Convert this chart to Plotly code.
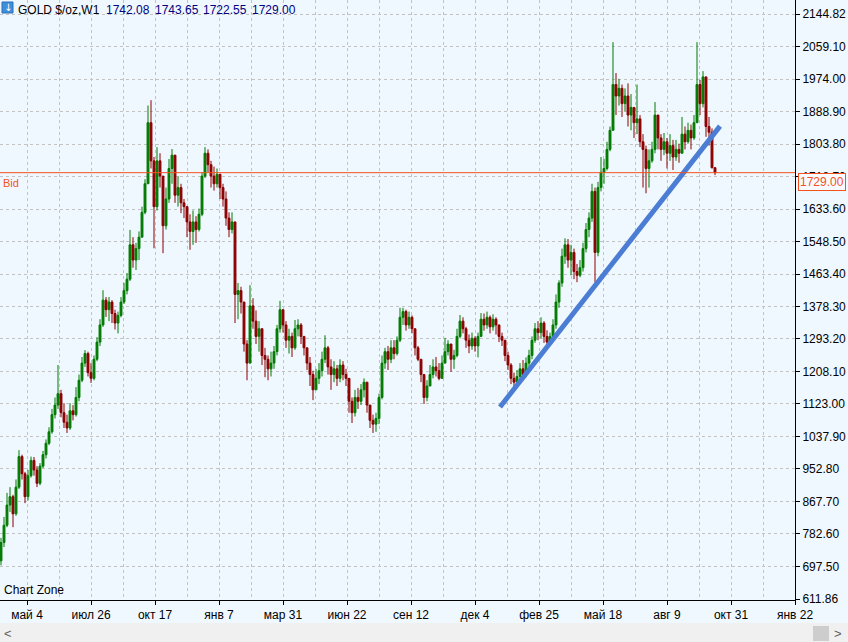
import plotly.graph_objects as go

# ---------------- data ----------------
# one candle every 3 bars along the time axis (bar index)
open_first = 712
close = [
    760, 805, 858, 880, 835, 905, 985, 940, 880, 935, 975, 950, 915, 960, 990, 1020,
    1050, 1095, 1120, 1150, 1100, 1075, 1060, 1105, 1095, 1140, 1185, 1230, 1255, 1205,
    1190, 1240, 1285, 1330, 1395, 1370, 1390, 1360, 1335, 1355, 1390, 1420, 1450, 1540,
    1500, 1530, 1560,
    1625, 1700, 1860, 1760, 1640, 1760, 1720, 1590, 1660, 1740, 1775, 1670, 1690, 1650,
    1640, 1600, 1575, 1600, 1580, 1620, 1720, 1780, 1750, 1720, 1700, 1725, 1690, 1660,
    1610, 1580, 1600, 1410, 1420, 1390, 1280, 1230, 1380, 1340, 1300, 1320, 1250, 1240,
    1215,
    1230, 1260, 1320, 1370, 1330, 1290, 1300, 1270, 1320, 1330, 1300, 1270, 1230, 1200,
    1160, 1190, 1210, 1240, 1270, 1220, 1200, 1215, 1190, 1225, 1200, 1190, 1130, 1100,
    1140, 1130, 1160, 1180, 1120, 1080, 1070, 1085, 1140, 1230, 1260, 1240, 1270, 1255,
    1290, 1350, 1365,
    1330, 1350, 1320, 1270, 1240, 1200, 1140, 1170, 1200, 1220, 1210, 1190, 1230, 1260,
    1280, 1240, 1250, 1300, 1340, 1320, 1290, 1275, 1295, 1275, 1300, 1345, 1330, 1350,
    1325, 1345, 1330, 1300, 1290, 1250, 1225, 1190, 1180, 1195, 1215, 1200, 1230, 1250,
    1290, 1320, 1310, 1335, 1300, 1285, 1300, 1330, 1390, 1440, 1510, 1540, 1500, 1520,
    1470, 1460, 1480, 1530, 1580, 1610, 1680, 1520, 1690, 1730, 1740, 1790, 1840, 1960,
    1930, 1950, 1910, 1930, 1880, 1900, 1860, 1870, 1810, 1790, 1740, 1760, 1790, 1880,
    1820, 1790, 1810, 1780, 1800, 1770, 1790, 1780, 1830, 1810, 1840, 1820, 1860, 1960,
    1910, 1980, 1850, 1835, 1742.08, 1729.00,
]
high = [
    772, 827, 890, 905, 885, 925, 1002, 990, 945, 950, 985, 984, 960, 968, 1000, 1030,
    1062, 1110, 1140, 1225, 1160, 1125, 1095, 1125, 1120, 1167, 1200, 1246, 1264, 1260,
    1230, 1250, 1298, 1345, 1421, 1403, 1403, 1395, 1370, 1365, 1403, 1440, 1466, 1579,
    1560, 1545, 1575,
    1640, 1712, 1905, 1919, 1770, 1796, 1780, 1720, 1690, 1765, 1791, 1760, 1720, 1700,
    1660, 1640, 1620, 1630, 1615, 1635, 1730, 1796, 1790, 1760, 1745, 1740, 1720, 1700,
    1680, 1625, 1625, 1600, 1440, 1430, 1370, 1290, 1434, 1400, 1368, 1340, 1300, 1270,
    1250,
    1260, 1275, 1330, 1393, 1370, 1340, 1320, 1310, 1343, 1345, 1335, 1300, 1270, 1246,
    1210, 1215, 1230, 1260, 1303, 1275, 1240, 1235, 1225, 1240, 1235, 1215, 1180, 1140,
    1160, 1165, 1175, 1190, 1180, 1120, 1095, 1100, 1150, 1250, 1270, 1275, 1290, 1290,
    1300, 1375, 1375,
    1370, 1365, 1355, 1320, 1275, 1240, 1200, 1185, 1225, 1240, 1246, 1230, 1250, 1296,
    1290, 1280, 1265, 1320, 1356, 1350, 1325, 1305, 1310, 1300, 1310, 1361, 1360, 1365,
    1355, 1358, 1350, 1330, 1310, 1280, 1260, 1230, 1205, 1212, 1230, 1238, 1245, 1265,
    1300, 1335, 1340, 1350, 1340, 1316, 1310, 1345, 1410, 1447, 1530, 1557, 1555, 1540,
    1530, 1490, 1500, 1545, 1597, 1625, 1700, 1690, 1705, 1770, 1765, 1810, 1850, 2071,
    1990, 1975, 1960, 1950, 1963, 1935, 1901, 1960, 1880, 1830, 1800, 1790, 1810, 1914,
    1870, 1830, 1833, 1820, 1830, 1815, 1815, 1805, 1875, 1850, 1860, 1855, 1880, 2071,
    1972, 1995, 1930, 1875, 1845, 1743.65,
]
low = [
    700, 748, 800, 840, 800, 830, 900, 925, 863, 870, 930, 935, 905, 910, 955, 980,
    1015, 1045, 1085, 1110, 1088, 1060, 1047, 1055, 1080, 1090, 1130, 1180, 1220, 1195,
    1178, 1185, 1235, 1275, 1325, 1351, 1340, 1335, 1318, 1308, 1350, 1385, 1410, 1445,
    1480, 1474, 1500,
    1560, 1620, 1700, 1740, 1531, 1630, 1690, 1518, 1580, 1650, 1700, 1650, 1640, 1623,
    1610, 1560, 1527, 1540, 1545, 1575, 1615, 1715, 1730, 1690, 1682, 1690, 1660, 1640,
    1590, 1560, 1570, 1335, 1345, 1360, 1260, 1185, 1240, 1320, 1280, 1260, 1225, 1193,
    1185,
    1195, 1215, 1250, 1310, 1310, 1270, 1255, 1246, 1265, 1300, 1280, 1250, 1212, 1170,
    1133, 1160, 1175, 1195, 1230, 1200, 1160, 1180, 1170, 1180, 1185, 1170, 1100, 1073,
    1090, 1110, 1120, 1140, 1100, 1060, 1047, 1050, 1070, 1135, 1215, 1212, 1230, 1240,
    1250, 1285, 1330,
    1315, 1320, 1308, 1250, 1235, 1180, 1123, 1130, 1170, 1190, 1195, 1185, 1190, 1240,
    1250, 1207, 1215, 1245, 1295, 1308, 1270, 1256, 1265, 1260, 1245, 1300, 1315, 1320,
    1308, 1315, 1305, 1285, 1275, 1235, 1212, 1175, 1160, 1165, 1180, 1190, 1193, 1220,
    1240, 1283, 1290, 1295, 1283, 1272, 1275, 1290, 1320, 1375, 1430, 1490, 1480, 1460,
    1450, 1442, 1455, 1470, 1520, 1560, 1600, 1442, 1510, 1680, 1700, 1735, 1785, 1840,
    1880, 1905, 1875, 1890, 1850, 1840, 1820, 1830, 1796, 1690, 1675, 1690, 1755, 1780,
    1790, 1760, 1775, 1740, 1760, 1736, 1760, 1755, 1780, 1790, 1805, 1790, 1815, 1860,
    1880, 1900, 1823, 1800, 1740, 1722.55,
]
bar_step = 3
first_bar = 1

header_name = "GOLD $/oz,W1"
header_ohlc = ["1742.08", "1743.65", "1722.55", "1729.00"]
bid_price = 1729.00

x_labels = ["май 4", "июл 26", "окт 17", "янв 7", "мар 31", "июн 22", "сен 12",
            "дек 4", "фев 25", "май 18", "авг 9", "окт 31", "янв 22"]
y_ticks = [2144.82, 2059.10, 1974.00, 1888.90, 1803.80, 1718.70, 1633.60, 1548.50,
           1463.40, 1378.30, 1293.20, 1208.10, 1123.00, 1037.90, 952.80, 867.70,
           782.60, 697.50, 611.86]

trend_x = [500, 720]
trend_y = [1115, 1851]

# ---------------- derived ----------------
n = len(close)
bars = [first_bar + bar_step * i for i in range(n)]
opens = [open_first] + close[:-1]

W, H = 848, 642
ML, MR, MT, MB = 0, 53, 0, 42
PW, PH = W - ML - MR, H - MT - MB          # 795 x 600
x_range = [0, PW]                            # 1 bar per pixel
# the outer labels sit 14 px below the top and 1 px above the bottom
scale = (y_ticks[0] - y_ticks[-1]) / (PH - 15)
y_range = [y_ticks[-1] - 1 * scale, y_ticks[0] + 14 * scale]

label_step = 64
x_tick_vals = [27 + label_step * i for i in range(len(x_labels))]
x_minor_vals = [v + label_step // 2 for v in x_tick_vals[:-1]]

BG = "#f0f8ff"
GRID = "#c3c3c3"
BID = "#f4511e"
FONT = "Liberation Sans"

fig = go.Figure()
fig.add_trace(go.Candlestick(
    x=bars, open=opens, high=high, low=low, close=close,
    increasing=dict(line=dict(color="#007a00", width=1), fillcolor="#007a00"),
    decreasing=dict(line=dict(color="#8b0000", width=1), fillcolor="#8b0000"),
    whiskerwidth=0, showlegend=False, hoverinfo="skip",
))
fig.add_trace(go.Scatter(
    x=trend_x, y=trend_y, mode="lines",
    line=dict(color="#4a7dd3", width=5), showlegend=False, hoverinfo="skip",
))

def px_x(p):
    return p / PW

def px_y(p):
    return 1 - p / PH

shapes = [
    dict(type="line", xref="paper", yref="y", x0=0, x1=1, y0=bid_price, y1=bid_price,
         line=dict(color=BID, width=1), layer="above"),
    # header icon
    dict(type="rect", xref="paper", yref="paper", x0=px_x(2), x1=px_x(13),
         y0=px_y(13), y1=px_y(2), fillcolor="#3f8fdb", line=dict(color="#2a6fb8", width=1)),
    # scrollbar
    dict(type="rect", xref="paper", yref="paper", x0=0, x1=W / PW,
         y0=px_y(642), y1=px_y(623), fillcolor="#f0f0f0", line=dict(width=0), layer="below"),
    dict(type="rect", xref="paper", yref="paper", x0=px_x(813), x1=px_x(829),
         y0=px_y(641), y1=px_y(626), fillcolor="#cdcdcd", line=dict(width=0)),
]

ann = [
    dict(text="↓", x=px_x(7.5), y=px_y(7.5), xanchor="center", yanchor="middle",
         font=dict(color="white", size=10, family="DejaVu Sans")),
    dict(text=header_name, x=px_x(16), y=px_y(1), xanchor="left", yanchor="top",
         font=dict(color="black", size=12, family=FONT)),
    dict(text="Chart Zone", x=px_x(2), y=px_y(599), xanchor="left", yanchor="bottom",
         font=dict(color="black", size=12, family=FONT)),
    dict(text="Bid", x=px_x(1), y=px_y(175), xanchor="left", yanchor="top",
         font=dict(color=BID, size=11, family=FONT)),
    dict(text="<", x=px_x(8), y=px_y(633), xanchor="center", yanchor="middle",
         font=dict(color="#606060", size=13, family=FONT)),
    dict(text=">", x=px_x(838), y=px_y(633), xanchor="center", yanchor="middle",
         font=dict(color="#606060", size=13, family=FONT)),
    dict(text=f"{bid_price:.2f}", x=px_x(798), y=bid_price, yref="y",
         xanchor="left", yanchor="top", font=dict(color=BID, size=12, family=FONT),
         bgcolor="#f7fbff", bordercolor=BID, borderwidth=1, borderpad=1),
]
for i, (t, xp) in enumerate(zip(header_ohlc, [104, 153, 201, 250])):
    ann.append(dict(text=t, x=px_x(xp), y=px_y(1), xanchor="left", yanchor="top",
                    font=dict(color="#000080", size=12, family=FONT)))
for a in ann:
    a.setdefault("xref", "paper")
    a.setdefault("yref", "paper")
    a["showarrow"] = False

fig.update_layout(
    width=W, height=H, margin=dict(l=ML, r=MR, t=MT, b=MB, pad=0),
    paper_bgcolor=BG, plot_bgcolor=BG,
    font=dict(family=FONT, size=12, color="black"),
    shapes=shapes, annotations=ann, showlegend=False,
    boxgap=0.1,
    xaxis=dict(
        range=x_range, rangeslider=dict(visible=False),
        tickmode="array", tickvals=x_tick_vals, ticktext=x_labels,
        ticks="outside", ticklen=4, tickcolor="black",
        showline=True, linecolor="black", linewidth=1,
        showgrid=True, gridcolor=GRID, griddash="3px,3px", gridwidth=1,
        minor=dict(tickmode="array", tickvals=x_minor_vals, showgrid=True,
                   gridcolor=GRID, griddash="3px,3px", ticks=""),
        zeroline=False, fixedrange=True, tickfont=dict(size=12),
    ),
    yaxis=dict(
        range=y_range, side="right",
        tickmode="array", tickvals=y_ticks, ticktext=[f"{v:.2f}" for v in y_ticks],
        ticks="outside", ticklen=4, tickcolor="black",
        showline=True, linecolor="black", linewidth=1, mirror=True,
        showgrid=True, gridcolor=GRID, griddash="3px,3px", gridwidth=1,
        zeroline=False, fixedrange=True, tickfont=dict(size=12),
    ),
)

fig.write_html("out.html")
